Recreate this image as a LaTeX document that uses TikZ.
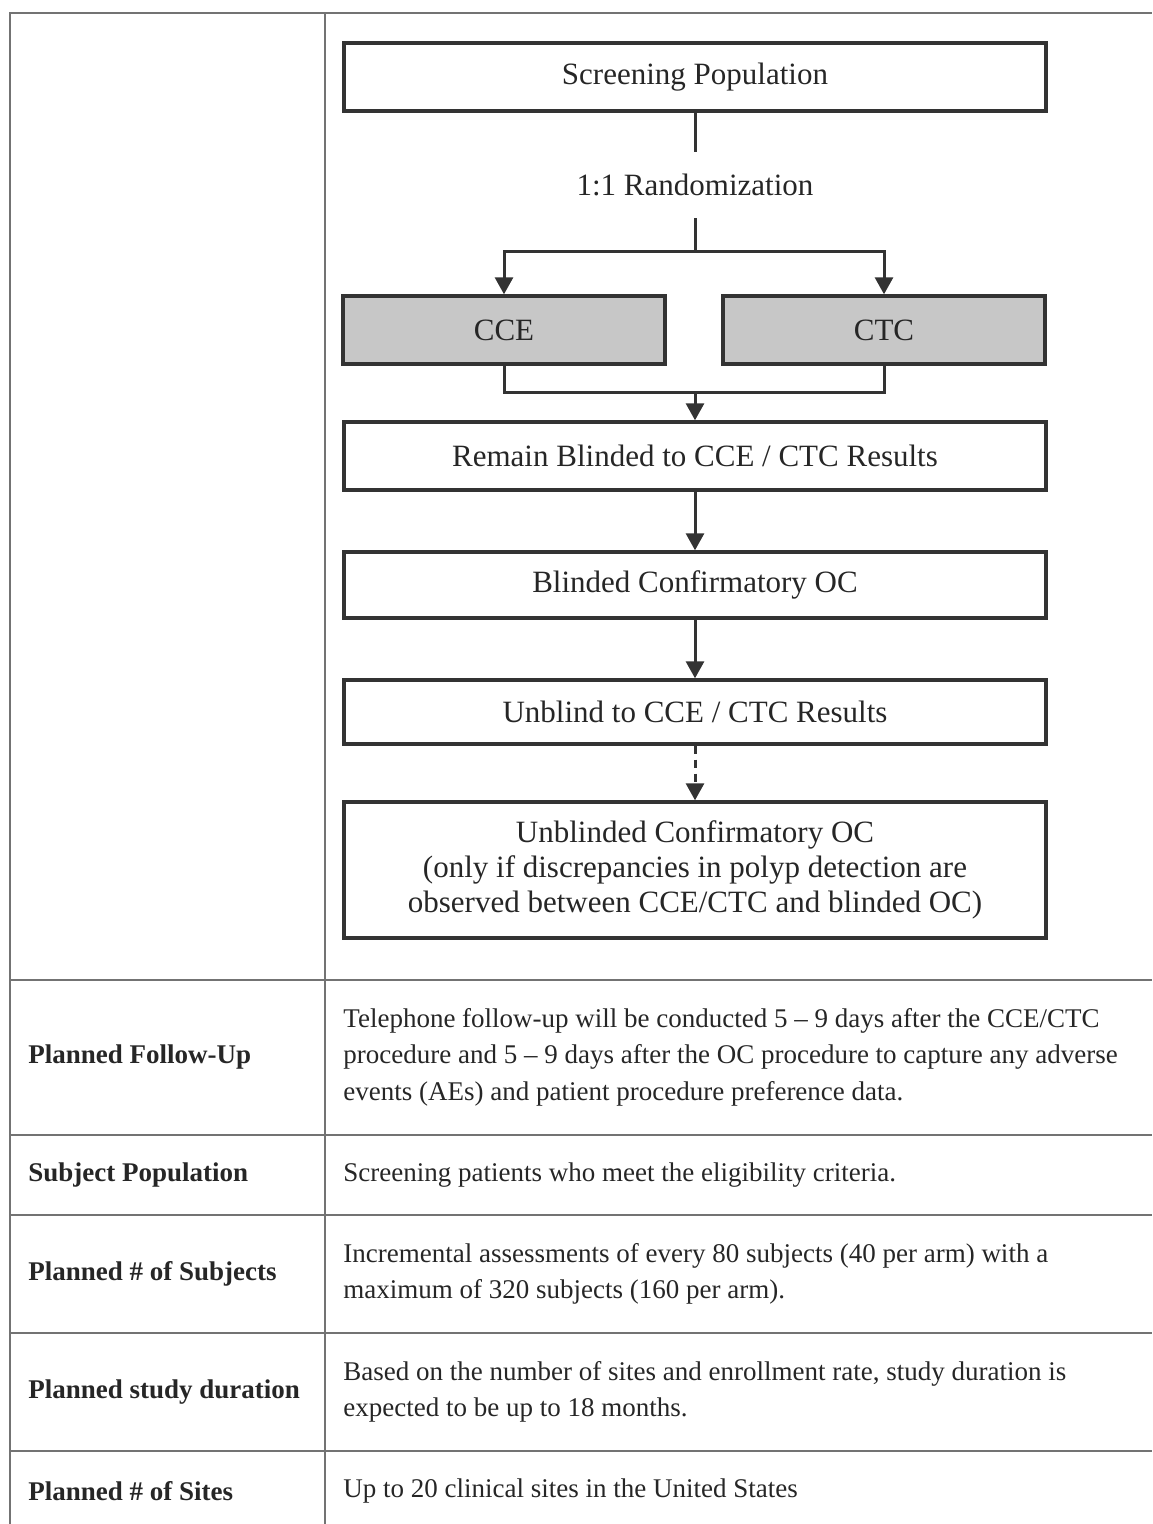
\documentclass[tikz,border=0pt]{standalone}
\usepackage{fontspec}
\setmainfont{Liberation Serif}
\usetikzlibrary{arrows.meta}
\tikzset{>={Triangle[width=9pt,length=8.5pt]}}

\begin{document}
\begin{tikzpicture}[x=0.5pt,y=-0.5pt,
  flowbox/.style={draw=black!80,line width=1.7pt,minimum width=351pt,minimum height=34pt,inner sep=0pt,font=\fontsize{15.5}{17.5}\selectfont,text=black!85,align=center},
  armbox/.style={flowbox,fill=black!22,minimum width=161pt},
  link/.style={draw=black!80,line width=1.5pt},
  rule/.style={draw=black!55,line width=1pt},
  rowhead/.style={anchor=west,font=\fontsize{13.5}{18.3}\selectfont\bfseries,text=black!85,inner sep=0pt},
  rowtext/.style={anchor=west,align=left,font=\fontsize{13.5}{18.3}\selectfont,text=black!85,inner sep=0pt}]
\useasboundingbox (0,0) rectangle (1152,1524);
% table frame
\draw[rule] (10,1524) -- (10,13) -- (1152,13);
\draw[rule] (325,13) -- (325,1524);
\foreach \y in {980,1135,1215,1333,1451}
  \draw[rule] (10,\y) -- (1152,\y);
% flowchart
\node[flowbox] (screen) at (695,77) {Screening Population};
\node[font=\fontsize{15.5}{17.5}\selectfont,text=black!85,minimum height=33pt,inner sep=0pt] (rand) at (695,185) {1:1 Randomization};
\node[armbox] (cce) at (504,330) {CCE};
\node[armbox] (ctc) at (884,330) {CTC};
\node[flowbox] (remain) at (695,456) {Remain Blinded to CCE / CTC Results};
\node[flowbox,minimum height=33pt] (blind) at (695,585) {Blinded Confirmatory OC};
\node[flowbox,minimum height=32pt] (unblind) at (695,712) {Unblind to CCE / CTC Results};
\node[flowbox,minimum height=68pt] (final) at (695,870) {Unblinded Confirmatory OC\\(only if discrepancies in polyp detection are\\observed between CCE/CTC and blinded OC)};
\coordinate (split) at (695,252);
\coordinate (join) at (695,392);
\draw[link] (screen) -- (rand);
\draw[link] (rand) -- (split);
\draw[link,->] (split) -| (cce.north);
\draw[link,->] (split) -| (ctc.north);
\draw[link] (cce.south) |- (join) -| (ctc.south);
\draw[link,->] (join) -- (remain);
\draw[link,->] (remain) -- (blind);
\draw[link,->] (blind) -- (unblind);
\draw[link,->,dash pattern=on 4pt off 3pt] (unblind) -- (final);
% table rows
\node[rowhead] (fuhead) at (28,1057) {Planned Follow-Up};
\node[rowtext] (futext) at (343,1057) {Telephone follow-up will be conducted 5 -- 9 days after the CCE/CTC\\procedure and 5 -- 9 days after the OC procedure to capture any adverse\\events (AEs) and patient procedure preference data.};
\node[rowhead] (pophead) at (28,1175) {Subject Population};
\node[rowtext] (poptext) at (343,1175) {Screening patients who meet the eligibility criteria.};
\node[rowhead] (subhead) at (28,1274) {Planned \# of Subjects};
\node[rowtext] (subtext) at (343,1274) {Incremental assessments of every 80 subjects (40 per arm) with a\\maximum of 320 subjects (160 per arm).};
\node[rowhead] (durhead) at (28,1392) {Planned study duration};
\node[rowtext] (durtext) at (343,1392) {Based on the number of sites and enrollment rate, study duration is\\expected to be up to 18 months.};
\node[rowhead] (sitehead) at (28,1491) {Planned \# of Sites};
\node[rowtext] (sitetext) at (343,1491) {Up to 20 clinical sites in the United States};
\end{tikzpicture}
\end{document}
